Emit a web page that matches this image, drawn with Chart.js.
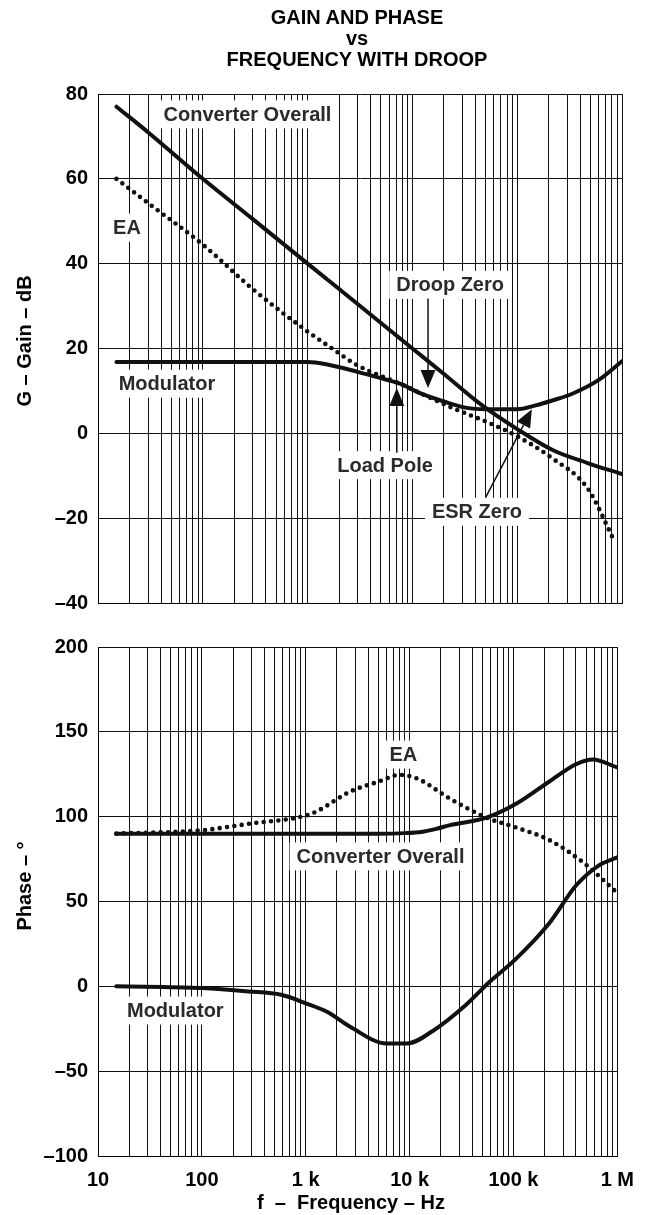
<!DOCTYPE html>
<html>
<head>
<meta charset="utf-8">
<script src="https://cdn.jsdelivr.net/npm/chart.js@4.4.0/dist/chart.umd.min.js"></script>
<style>
  body { margin: 0; background: #fff; width: 646px; height: 1215px; position: relative; overflow: hidden;
         font-family: 'Liberation Sans', Arial, Helvetica, sans-serif; }
  .wrap { position: absolute; left: 0; width: 646px; }
  #title { position: absolute; left: 157px; top: 7px; width: 400px; text-align: center;
           font-weight: bold; font-size: 20px; line-height: 21px; color: #000; }
</style>
</head>
<body>
<div class="wrap" style="top:0;height:625px"><canvas id="gain"></canvas></div>
<div class="wrap" style="top:625px;height:590px"><canvas id="phase"></canvas></div>
<div id="title">GAIN AND PHASE<br>vs<br>FREQUENCY WITH DROOP</div>
<script>
// frequency decades and their labels
var decades = [10, 100, 1000, 10000, 100000, 1000000];
var decadeLabels = ['10', '100', '1 k', '10 k', '100 k', '1 M'];

// gain (dB)
var convGainF = [15, 30, 100, 300, 1000, 3000, 10000, 20000, 44000, 100000, 220000, 470000, 1000000];
var convGainV = [77, 71, 60, 50.5, 40, 30.5, 20, 14, 7, 1, -4, -7, -9.6];
var eaGainF = [15, 30, 100, 300, 1000, 1600, 3000, 7600, 24000, 50000, 100000, 220000, 470000, 850000];
var eaGainV = [60, 54.3, 44.5, 34, 24, 20.5, 16, 11.7, 6, 2.8, -0.7, -6, -13, -25.5];
var modGainF = [15, 100, 1000, 1500, 3000, 5000, 7600, 12000, 20000, 33000, 50000, 100000, 150000, 220000, 340000, 600000, 1000000];
var modGainV = [16.8, 16.8, 16.8, 16.3, 14.5, 13, 11.7, 9.4, 7.5, 6, 5.7, 5.7, 6.6, 7.8, 9.4, 12.6, 17];

// phase (deg)
var convPhaseF = [15, 100, 1000, 5000, 9000, 13000, 18000, 24500, 55000, 105000, 220000, 400000, 580000, 1000000];
var convPhaseV = [90, 90, 90, 90, 90.3, 91, 92.8, 95, 99.4, 107.4, 120.6, 130.9, 133.7, 129];
var eaPhaseF = [15, 100, 300, 1000, 1300, 2700, 5000, 8000, 12000, 24000, 55000, 105000, 220000, 470000, 1000000];
var eaPhaseV = [90, 92, 96, 100.6, 103.4, 114.9, 120.6, 124.6, 122.3, 110.9, 99.4, 93.7, 86.3, 73, 55];
var modPhaseF = [15, 100, 280, 580, 1000, 1600, 2700, 6000, 9400, 17000, 35000, 58000, 105000, 220000, 400000, 650000, 1000000];
var modPhaseV = [0, -1, -3, -5, -10, -15, -24, -33.7, -33.7, -26, -10.9, 2.3, 16, 37, 59.4, 70.9, 76];

// callouts (frequency, value) and arrows
var gainNotes = [
  { text: 'Converter Overall', f: 267, v: 75.2 },
  { text: 'EA', f: 18.9, v: 48.5 },
  { text: 'Droop Zero', f: 22900, v: 35 },
  { text: 'Modulator', f: 45.5, v: 11.7 },
  { text: 'Load Pole', f: 5480, v: -7.5 },
  { text: 'ESR Zero', f: 41300, v: -18.5 }
];
var phaseNotes = [
  { text: 'EA', f: 8700, v: 136.6 },
  { text: 'Converter Overall', f: 5250, v: 76.6 },
  { text: 'Modulator', f: 55.5, v: -14.3 }
];
var gainArrows = [
  { from: [14100, 31.8], to: [14100, 10.7] },
  { from: [7100, -4.6], to: [7100, 10.7] },
  { from: [50000, -15.1], to: [138000, 5.7] }
];

var FONT = "'Liberation Sans', Arial, Helvetica, sans-serif";
Chart.defaults.font.family = FONT;
Chart.defaults.color = '#000';

var logTicks = [];
for (var d = 0; d < decades.length - 1; d++) {
  for (var k = 1; k < 10; k++) logTicks.push(decades[d] * k);
}
logTicks.push(decades[decades.length - 1]);

function pts(fs, vs) {
  return fs.map(function (f, i) { return { x: f, y: vs[i] }; });
}

function solid(data) {
  return { data: data, borderColor: '#111', borderWidth: 4, pointRadius: 0,
           cubicInterpolationMode: 'monotone', borderCapStyle: 'round', borderJoinStyle: 'round' };
}
function dotted(data) {
  return { data: data, borderColor: '#111', borderWidth: 4.6, pointRadius: 0,
           cubicInterpolationMode: 'monotone', borderDash: [0, 7.4], borderCapStyle: 'round' };
}

function dash(v) { return String(v).replace('-', '\u2013'); }

function notesPlugin(notes, arrows, yTitle, yTitleY, xTitle) {
  return {
    id: 'notes',
    beforeDatasetsDraw: function (chart) {
      var ctx = chart.ctx, sx = chart.scales.x, sy = chart.scales.y;
      ctx.save();
      ctx.font = 'bold 20px ' + FONT;
      ctx.textAlign = 'center';
      ctx.textBaseline = 'middle';
      notes.forEach(function (n) {
        var x = sx.getPixelForValue(n.f), y = sy.getPixelForValue(n.v);
        var w = ctx.measureText(n.text).width + 14;
        ctx.fillStyle = '#fff';
        ctx.fillRect(x - w / 2, y - 14, w, 28);
        ctx.fillStyle = '#2a2a2a';
        ctx.fillText(n.text, x, y + 1);
      });
      ctx.restore();
    },
    afterDatasetsDraw: function (chart) {
      var ctx = chart.ctx, sx = chart.scales.x, sy = chart.scales.y;
      ctx.save();
      ctx.strokeStyle = '#111';
      ctx.fillStyle = '#111';
      ctx.lineWidth = 1.5;
      arrows.forEach(function (a) {
        var x0 = sx.getPixelForValue(a.from[0]), y0 = sy.getPixelForValue(a.from[1]);
        var x1 = sx.getPixelForValue(a.to[0]), y1 = sy.getPixelForValue(a.to[1]);
        var ang = Math.atan2(y1 - y0, x1 - x0), len = 18, hw = 7.5;
        var bx = x1 - len * Math.cos(ang), by = y1 - len * Math.sin(ang);
        ctx.beginPath();
        ctx.moveTo(x0, y0);
        ctx.lineTo(bx, by);
        ctx.stroke();
        ctx.beginPath();
        ctx.moveTo(x1, y1);
        ctx.lineTo(bx + hw * Math.sin(ang), by - hw * Math.cos(ang));
        ctx.lineTo(bx - hw * Math.sin(ang), by + hw * Math.cos(ang));
        ctx.closePath();
        ctx.fill();
      });
      ctx.restore();
    },
    afterDraw: function (chart) {
      var ctx = chart.ctx;
      ctx.save();
      ctx.font = 'bold 20px ' + FONT;
      ctx.fillStyle = '#000';
      ctx.textAlign = 'center';
      ctx.textBaseline = 'middle';
      ctx.translate(25, yTitleY);
      ctx.rotate(-Math.PI / 2);
      ctx.fillText(yTitle, 0, 0);
      ctx.restore();
      if (xTitle) {
        ctx.save();
        ctx.font = 'bold 20px ' + FONT;
        ctx.fillStyle = '#000';
        ctx.textAlign = 'center';
        ctx.textBaseline = 'middle';
        ctx.fillText(xTitle, 351, 578);
        ctx.restore();
      }
    }
  };
}

function makeChart(id, datasets, yMin, yMax, yStep, pad, showX, plugin) {
  return new Chart(document.getElementById(id).getContext('2d'), {
    type: 'line',
    data: { datasets: datasets },
    options: {
      responsive: true,
      maintainAspectRatio: false,
      animation: false,
      devicePixelRatio: 1,
      layout: { padding: pad },
      plugins: { legend: { display: false }, tooltip: { enabled: false } },
      scales: {
        x: {
          type: 'logarithmic',
          min: 10,
          max: 1000000,
          afterBuildTicks: function (s) { s.ticks = logTicks.map(function (v) { return { value: v }; }); },
          afterFit: function (s) { s.height = showX ? 59 : 0; },
          grid: { color: '#111', lineWidth: 1, drawTicks: false },
          border: { color: '#000', width: 1 },
          ticks: {
            display: showX,
            autoSkip: false,
            maxRotation: 0,
            padding: 12,
            font: { size: 20, weight: 'bold' },
            callback: function (v) {
              var i = decades.indexOf(v);
              return i >= 0 ? decadeLabels[i] : '';
            }
          }
        },
        y: {
          min: yMin,
          max: yMax,
          afterFit: function (s) { s.width = 98; },
          grid: { color: '#111', lineWidth: 1, drawTicks: false },
          border: { color: '#000', width: 1 },
          ticks: {
            stepSize: yStep,
            padding: 10,
            font: { size: 20, weight: 'bold' },
            callback: function (v) { return dash(v); }
          }
        }
      }
    },
    plugins: [plugin]
  });
}

makeChart('gain', [
  solid(pts(convGainF, convGainV)),
  dotted(pts(eaGainF, eaGainV)),
  solid(pts(modGainF, modGainV))
], -40, 80, 20, { top: 94, right: 24, bottom: 6, left: 0 }, false,
  notesPlugin(gainNotes, gainArrows, 'G \u2013 Gain \u2013 dB', 341, null));

makeChart('phase', [
  solid(pts(convPhaseF, convPhaseV)),
  dotted(pts(eaPhaseF, eaPhaseV)),
  solid(pts(modPhaseF, modPhaseV))
], -100, 200, 50, { top: 6, right: 24, bottom: 0, left: 0 }, true,
  notesPlugin(phaseNotes, [], 'Phase \u2013 \u00b0', 261, 'f  \u2013  Frequency \u2013 Hz'));
</script>
</body>
</html>
